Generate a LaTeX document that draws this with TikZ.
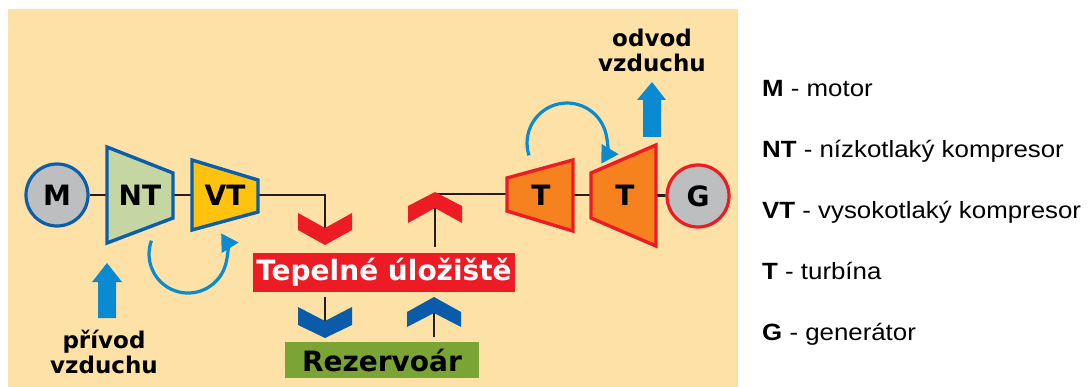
\documentclass[tikz,border=0pt]{standalone}
\usepackage{fontspec}
\usetikzlibrary{arrows.meta,calc}
\newfontfamily\dvfont{DejaVu Sans}
\newfontfamily\lgfont{Liberation Sans}[FakeStretch=1.1]
\definecolor{bgc}{RGB}{253,225,166}
\definecolor{cgray}{HTML}{BCBEC0}
\definecolor{cbord}{HTML}{0B5FAA}
\definecolor{ntgreen}{HTML}{C5D6A2}
\definecolor{vtyellow}{HTML}{FFC20F}
\definecolor{corange}{HTML}{F5821F}
\definecolor{cred}{HTML}{ED1C24}
\definecolor{cdblue}{HTML}{0A5CAB}
\definecolor{clblue}{HTML}{0A8AD0}
\definecolor{cgreen}{HTML}{7AA434}
\definecolor{cline}{HTML}{231F20}
\tikzset{
  bigtxt/.style={font=\dvfont\bfseries\fontsize{28}{30}\selectfont},
  machine/.style={bigtxt, inner sep=0pt, minimum height=40pt},
  roundm/.style={circle, bigtxt, inner sep=0pt, minimum size=62pt, line width=3.2pt, fill=cgray},
  conn/.style={draw=cline, line width=2.8pt},
  trapez/.style={line width=3.4pt, line join=miter},
  bluearc/.style={draw=clblue, line width=3.2pt, -{Triangle[length=17pt,width=19pt]}},
  airtxt/.style={font=\dvfont\bfseries\fontsize{23}{25}\selectfont, align=center, inner sep=0pt},
  legend/.style={font=\lgfont\fontsize{23.5}{26}\selectfont, anchor=base west, inner sep=0pt},
}
\begin{document}
\begin{tikzpicture}[x=1pt,y=-1pt]
\useasboundingbox (0,0) rectangle (1091,387);
\fill[bgc] (8,9) rectangle (738,387);

% machine nodes (text + extents)
\node[roundm, draw=cbord] (M) at (57,195) {M};
\node[machine, minimum width=66pt] (NT) at (140,195) {};
\node[machine, minimum width=66pt] (VT) at (225,195) {};
\node[machine, minimum width=66pt] (T1) at (540,195) {};
\node[machine, minimum width=65pt] (T2) at (623.5,195) {};
\node[roundm, draw=cred] (G) at (698,196) {G};

% boxes
\node[bigtxt, fill=cred, text=white, minimum width=262pt, minimum height=39pt, inner sep=0pt] (TU) at (384,272.5) {Tepelné úložiště};
\node[bigtxt, fill=cgreen, text=black, minimum width=194pt, minimum height=36pt, inner sep=0pt] (RZ) at (382,360) {Rezervoár};

% coordinates for connector ends
\coordinate (c1) at (325,228);
\coordinate (c2) at (325,321);
\coordinate (c3) at (434,313);
\coordinate (c4) at (435,194);

% connectors
\draw[conn] (M) -- (NT);
\draw[conn] (NT) -- (VT);
\draw[conn] (VT.east) -| (c1);
\draw[conn, shorten <=5pt] (TU.south -| c2) -- (c2);
\draw[conn, shorten <=5pt] (RZ.north -| c3) -- (c3);
\draw[conn, shorten <=6pt] (TU.north -| c4) -- (c4) -- (c4 -| T1.west);
\draw[conn] (T1) -- (T2);
\draw[conn] (T2) -- (G);

% trapezoids
\draw[trapez, fill=ntgreen, draw=cbord] (107,147) -- (173,173) -- (173,218) -- (107,243) -- cycle;
\draw[trapez, fill=vtyellow, draw=cbord] (192,160) -- (258,180) -- (258,212) -- (192,230) -- cycle;
\draw[trapez, fill=corange, draw=cred] (507,178) -- (573,160) -- (573,231) -- (507,211) -- cycle;
\draw[trapez, fill=corange, draw=cred] (591,173) -- (656,145) -- (656,246) -- (591,218) -- cycle;
\node[bigtxt] at (NT) {NT};
\node[bigtxt] at (VT) {VT};
\node[bigtxt] at (541,195) {T};
\node[bigtxt] at (625,195) {T};

% chevrons
\fill[cred] (298,213) -- (325,228) -- (352,213) -- (352,230) -- (325,245) -- (298,230) -- cycle;
\fill[cred] (435,192) -- (462,206) -- (462,223) -- (435,208) -- (408,223) -- (408,206) -- cycle;
\fill[cdblue] (298,307) -- (325,321) -- (352,307) -- (352,325) -- (325,338) -- (298,325) -- cycle;
\fill[cdblue] (434,297) -- (461,312) -- (461,327) -- (434,313) -- (407,327) -- (407,312) -- cycle;

% air arrows
\fill[clblue] (107,263) -- (122,282) -- (116,282) -- (116,318) -- (98,318) -- (98,282) -- (92,282) -- cycle;
\fill[clblue] (652,82) -- (666,100) -- (661,100) -- (661,137) -- (643,137) -- (643,100) -- (637,100) -- cycle;
\node[airtxt] (pr) at (104,352) {přívod\\vzduchu};
\node[airtxt] (od) at (652,50) {odvod\\vzduchu};

% curved arrows
\draw[bluearc] (529,155.4) arc[start angle=162, end angle=391, radius=40];
\draw[bluearc] (151.4,240.7) arc[start angle=200, end angle=-32, radius=39];

% legend
\node[legend] (l1) at (762,96.5) {\textbf{M} - motor};
\node[legend] (l2) at (762,157.5) {\textbf{NT} - nízkotlaký kompresor};
\node[legend] (l3) at (762,218.5) {\textbf{VT} - vysokotlaký kompresor};
\node[legend] (l4) at (762,279.5) {\textbf{T} - turbína};
\node[legend] (l5) at (762,340.5) {\textbf{G} - generátor};
\end{tikzpicture}
\end{document}
